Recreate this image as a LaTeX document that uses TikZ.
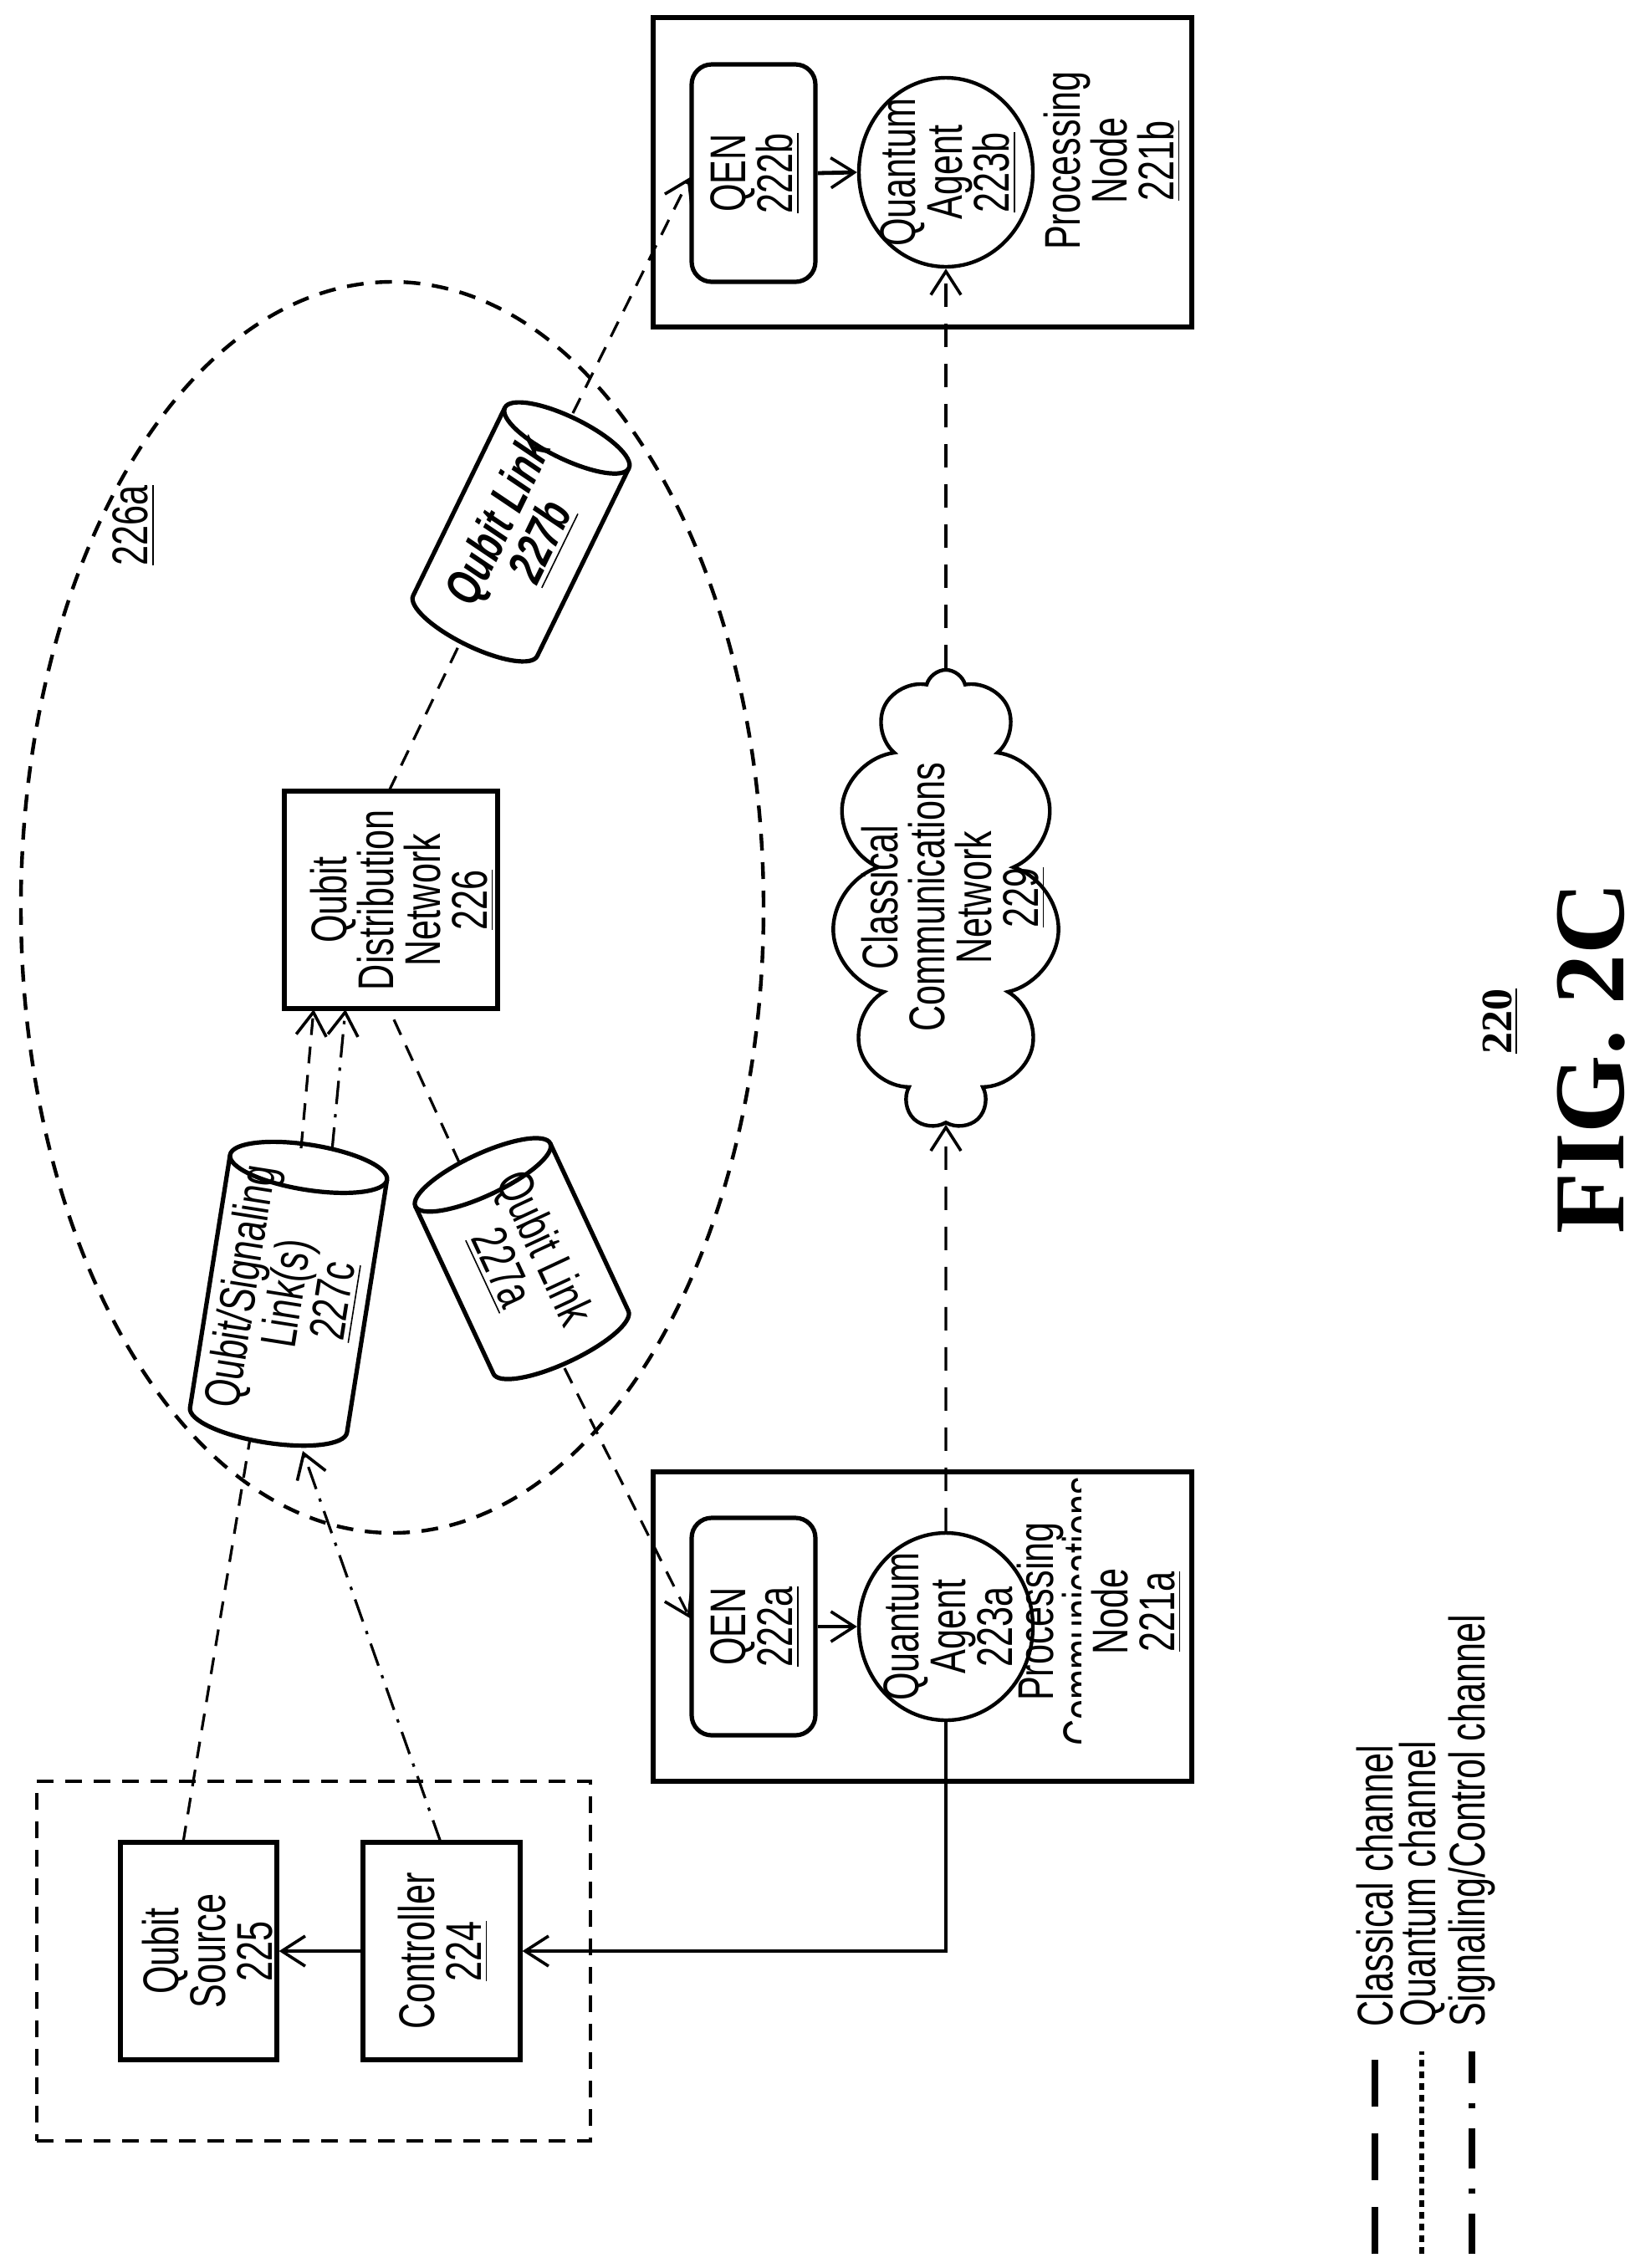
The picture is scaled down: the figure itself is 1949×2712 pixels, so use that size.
\documentclass[tikz,border=0pt]{standalone}
\usepackage{fontspec}
\setmainfont{Liberation Sans}[FakeStretch=0.72]
\newfontfamily\figfont{Liberation Serif}
\usetikzlibrary{arrows.meta,shapes.geometric,shapes.symbols}
\newcommand\mycyl[9]{% name, cx, cy, angle, L, D, a, node options, text
\begin{scope}[shift={(#2,#3)},x=0.25pt,y=0.25pt,rotate=#4]
\draw[thick2] (#5/2,0) ellipse [x radius=#7, y radius=#6/2];
\draw[thick2] (#5/2,#6/2) -- (-#5/2,#6/2) arc[start angle=90,end angle=270,x radius=#7,y radius=#6/2] -- (#5/2,-#6/2);
\coordinate (#1-top) at (#5/2+#7,0);
\coordinate (#1-bot) at (-#5/2-#7,0);
\end{scope}
\node[#8] (#1) at (#2,#3) {#9};}
\begin{document}
\begin{tikzpicture}[x=0.25pt,y=-0.25pt,
  every node/.style={font=\fontsize{15}{14}\selectfont,align=center,inner sep=0pt},
  thick2/.style={line width=1.3pt},
  box/.style={draw,line width=1.3pt},
  lbl/.style={rotate=90},
  arr/.style={-{Straight Barb[length=7pt,width=9pt,line width=0.9pt]}},
  classical/.style={line width=0.8pt,dash pattern=on 7pt off 5pt},
  quantum/.style={line width=0.8pt,dash pattern=on 5pt off 3.5pt},
  signal/.style={line width=0.8pt,dash pattern=on 7pt off 3pt on 1pt off 3pt}]
\useasboundingbox (0,0) rectangle (1949,2712);
\fill[white] (0,0) rectangle (1949,2712);

% enclosing ellipse
\node[draw,ellipse,line width=1.1pt,dash pattern=on 5pt off 3.5pt,minimum width=222pt,minimum height=374pt] (e226a) at (469,1085) {};
\node[lbl] (l226a) at (160,628) {\underline{226a}};

% processing node b
\node[box,minimum width=161pt,minimum height=92.5pt] (n221b) at (1103,206) {};
\node[box,rounded corners=6pt,minimum width=37pt,minimum height=65pt] (qen222b) at (901,207) {};
\node[lbl] at (903,207) {QEN\\\underline{222b}};
\node[draw,ellipse,line width=1.1pt,minimum width=52pt,minimum height=56.5pt] (ag223b) at (1131,206) {};
\node[lbl] at (1134,206) {Quantum\\Agent\\\underline{223b}};
\node[lbl] at (1330,192) {Processing\\Node\\\underline{221b}};

% processing node a
\node[box,minimum width=161pt,minimum height=92.5pt] (n221a) at (1103,1945) {};
\node[box,rounded corners=6pt,minimum width=37pt,minimum height=65pt] (qen222a) at (901,1945) {};
\node[lbl] at (903,1945) {QEN\\\underline{222a}};
\node[draw,ellipse,line width=1.1pt,minimum width=52pt,minimum height=56pt] (ag223a) at (1131,1945) {};
\node[lbl] at (1134,1945) {Quantum\\Agent\\223a};
\node[lbl] at (1244,1927) {Processing};
\begin{scope}
\clip (1266,1700) rectangle (1292,2150);
\node[lbl] at (1292,1927) {Communications};
\end{scope}
\node[lbl] at (1359,1927) {Node\\\underline{221a}};

% qubit distribution network
\node[box,minimum width=63.75pt,minimum height=65pt] (qdn) at (467.5,1076) {};
\node[lbl] at (481,1076) {Qubit\\Distribution\\Network\\\underline{226}};

% cloud
\node[draw,cloud,cloud puffs=11,aspect=0.48,line width=1.1pt,minimum width=68pt,minimum height=137pt] (cloud) at (1131,1075) {};
\node[lbl] at (1140,1073) {Classical\\Communications\\Network\\\underline{229}};

% source / controller
\node[draw,line width=1.1pt,dash pattern=on 5pt off 3.5pt,minimum width=165.5pt,minimum height=107.5pt] (dbox) at (375,2345) {};
\node[box,minimum width=46.75pt,minimum height=65pt] (src) at (237.5,2333) {};
\node[lbl] at (252,2333) {Qubit\\Source\\\underline{225}};
\node[box,minimum width=47pt,minimum height=65pt] (ctrl) at (528,2333) {};
\node[lbl] at (530,2333) {Controller\\\underline{224}};

% cylinders
\mycyl{c227}{345}{1547}{81}{306}{190}{27}{rotate=81}{Qubit/Signaling\\Link(s)\\\underline{227c}}
\mycyl{a227}{624}{1505}{115}{221}{178}{25}{rotate=-65}{Qubit Link\\\underline{227a}}
\mycyl{b227}{623}{636}{64}{250}{165}{25}{rotate=64,font=\fontsize{15}{14}\selectfont\bfseries\itshape}{Qubit Link\\\underline{227b}}

% coordinates for connector ends
\coordinate (srcT) at (219,2203);
\coordinate (ctrlT) at (527,2203);
\coordinate (cBq) at (299,1720);
\coordinate (cBs) at (362,1735);
\coordinate (cTq) at (360,1373);
\coordinate (cTs) at (397,1376);
\coordinate (qdnBq) at (375,1207);
\coordinate (qdnBs) at (413,1207);
\coordinate (qdnBa) at (465,1206);
\coordinate (qdnT) at (465,946);
\coordinate (aT) at (550,1392);
\coordinate (aB) at (675,1636);
\coordinate (qenAL) at (825,1935);
\coordinate (bB) at (550,769);
\coordinate (bT) at (685,494);
\coordinate (qenBL) at (825,212);
\coordinate (turn) at (1131,2333);

% connectors
\draw[classical,arr] (ag223a.north) -- (cloud.south);
\draw[classical,arr] (cloud.north) -- (ag223b.south);
\draw[line width=1.2pt,arr] (ag223a.south) -- (turn) -- (ctrl.east);
\draw[line width=1.2pt,arr] (ctrl.west) -- (src.east);
\draw[line width=1.2pt,arr] (qen222a.east) -- (ag223a.west);
\draw[line width=1.2pt,arr] (qen222b.east) -- (ag223b.west);
\draw[quantum] (srcT) -- (cBq);
\draw[signal,arr] (ctrlT) -- (cBs);
\draw[quantum,arr] (cTq) -- (qdnBq);
\draw[signal,arr] (cTs) -- (qdnBs);
\draw[quantum] (aT) -- (qdnBa);
\draw[quantum,arr] (aB) -- (qenAL);
\draw[quantum] (qdnT) -- (bB);
\draw[quantum,arr] (bT) -- (qenBL);

% legend
\coordinate (lg1a) at (1644,2453); \coordinate (lg1b) at (1644,2695);
\coordinate (lg2a) at (1700,2453); \coordinate (lg2b) at (1700,2695);
\coordinate (lg3a) at (1760,2453); \coordinate (lg3b) at (1760,2695);
\draw[line width=2pt,dash pattern=on 14pt off 8pt] (lg1b) -- (lg1a);
\draw[line width=1.6pt,dash pattern=on 2pt off 1.5pt] (lg2b) -- (lg2a);
\draw[line width=2pt,dash pattern=on 12pt off 6pt on 1.5pt off 6pt] (lg3b) -- (lg3a);
\node[lbl,anchor=west] (t1) at (1644,2424) {Classical channel};
\node[lbl,anchor=west] (t2) at (1700,2424) {Quantum channel};
\node[lbl,anchor=west] (t3) at (1760,2424) {Signaling/Control channel};

% figure label
\node[lbl,font=\figfont\bfseries\fontsize{13}{14}\selectfont] (n220) at (1794,1221) {\underline{220}};
\node[lbl,font=\figfont\bfseries\fontsize{30}{32}\selectfont] (fig) at (1903,1265) {FIG. 2C};
\end{tikzpicture}
\end{document}
